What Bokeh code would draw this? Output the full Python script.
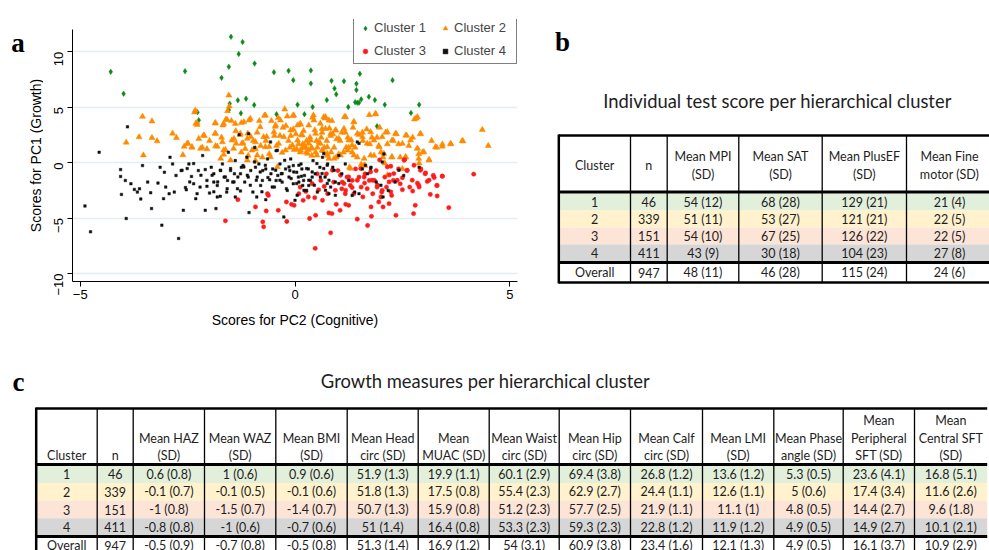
import math
from bokeh.plotting import figure
from bokeh.models import Range1d, FixedTicker, Legend, LegendItem
from bokeh.layouts import column, row
from bokeh.embed import file_html
from bokeh.resources import INLINE
from bokeh.core.properties import value

# ---------------- data: panel a (PC scores per cluster) ----------------
cluster1_pts = [(-4.29, 8.18), (-3.99, 6.21), (-2.56, 8.24), (-2.27, 4.54), (-2.24, 3.82), (-1.71, 7.64),
    (-1.54, 8.63), (-1.49, 11.34), (-1.22, 10.87), (-1.31, 9.79), (-0.94, 8.93), (-1.52, 5.31), (-1.54, 4.75),
    (-1.33, 5.61), (-1.14, 5.76), (-1.26, 4.45), (-0.95, 5.19), (-0.49, 8.15), (-0.15, 8.27), (-0.04, 7.43),
    (-0.43, 4.36), (0.06, 5.22), (0.37, 8.30), (0.37, 7.13), (0.41, 5.01), (0.22, 4.36), (0.74, 5.64),
    (0.85, 7.37), (0.92, 6.69), (0.96, 6.15), (1.14, 7.34), (1.43, 7.10), (1.43, 6.54), (1.51, 8.00),
    (1.24, 5.01), (1.45, 5.40), (1.49, 5.40), (1.54, 5.70), (1.72, 5.94), (1.86, 5.64), (2.09, 5.22),
    (2.27, 7.43), (1.91, 3.28), (2.70, 4.48), (2.89, 5.22), (1.40, 5.45)]

cluster2_pts = [(-3.93, 1.82), (-3.55, 4.15), (-3.63, 2.30), (-3.33, 3.73), (-3.33, 2.24), (-3.21, 1.94),
    (-3.53, 0.66), (-2.85, 2.63), (-2.76, 2.24), (-2.58, 1.46), (-2.49, 1.73), (-2.40, 1.37), (-2.61, 0.69),
    (-2.34, 4.54), (-2.31, 3.52), (-2.28, 3.40), (-2.24, 2.15), (-2.16, 1.37), (-2.11, 2.42), (-2.05, 1.22),
    (-1.99, 1.97), (-1.86, 3.55), (-1.86, 2.63), (-1.85, 1.49), (-1.81, 1.46), (-1.71, 2.27), (-1.68, 3.37),
    (-1.66, 0.72), (-1.62, 1.16), (-1.61, 3.88), (-1.57, 4.66), (-1.54, 6.06), (-1.53, 5.07), (-1.48, 3.76),
    (-1.42, 2.15), (-1.38, 2.84), (-1.37, 1.73), (-1.28, 2.51), (-1.25, 3.58), (-1.21, 1.76), (-1.16, 1.25),
    (-1.10, 2.63), (-1.07, 3.82), (-1.03, 2.33), (-0.97, 1.97), (-0.92, 1.22), (-0.88, 2.72), (-0.83, 3.76),
    (-0.80, 1.52), (-0.71, 4.24), (-0.66, 2.33), (-0.60, 1.43), (-0.55, 3.76), (-0.46, 3.25), (-0.43, 1.52),
    (-0.39, 4.03), (-0.35, 2.42), (-0.30, 0.90), (-0.24, 4.81), (-0.21, 3.31), (-0.15, 1.97), (-0.10, 2.42),
    (-0.05, 4.21), (-0.02, 1.16), (0.02, 2.57), (0.06, 3.37), (0.08, 1.67), (0.13, 3.43), (0.15, 2.51),
    (0.17, 1.31), (0.20, 1.46), (0.24, 1.37), (0.27, 1.97), (0.31, 1.13), (0.35, 2.27), (0.39, 0.63),
    (0.41, 4.06), (0.44, 3.82), (0.46, 2.93), (0.50, 1.97), (0.52, 1.37), (0.59, 3.52), (0.63, 2.72),
    (0.65, 1.07), (0.70, 4.00), (0.74, 1.97), (0.76, 0.63), (0.80, 3.10), (0.83, 2.42), (0.86, 3.76),
    (0.91, 1.37), (0.95, 2.93), (0.97, 2.12), (1.02, 0.75), (1.05, 1.97), (1.09, 2.72), (1.15, 4.12),
    (1.19, 1.37), (1.23, 2.27), (1.27, -0.42), (1.31, 2.03), (1.35, 3.16), (1.37, 3.67), (1.40, 1.37),
    (1.45, 0.48), (1.49, 2.51), (1.54, -0.18), (1.58, 1.97), (1.63, -0.27), (1.67, 3.01), (1.73, 4.30),
    (1.74, 1.67), (1.79, 2.27), (1.84, 0.63), (1.87, 4.36), (1.91, 2.27), (1.95, 1.52), (2.00, 0.93),
    (2.05, 0.48), (2.09, -0.06), (2.11, 2.72), (2.15, 1.67), (2.25, 0.48), (2.29, 1.97), (2.36, 2.57),
    (2.41, 1.67), (2.45, 0.48), (2.50, -0.57), (2.57, 0.48), (2.60, 2.45), (2.65, 1.52), (2.74, 2.27),
    (2.82, 4.00), (2.85, 1.28), (2.88, 0.78), (2.89, -0.06), (2.92, 2.57), (2.97, 0.93), (3.12, 0.21),
    (3.18, 1.97), (3.30, 1.37), (3.43, 1.46), (3.63, 1.67), (3.91, 1.94), (4.36, 2.96), (4.50, 1.52),
    (2.78, 3.91), (-0.12, 1.37), (0.04, 1.22), (0.12, 0.93), (0.18, 1.67), (0.26, 0.93), (0.32, 1.73),
    (0.38, 1.37), (0.48, 0.93), (0.56, 1.82), (0.68, 1.37), (0.84, 0.93), (0.96, 0.48), (1.13, 0.93),
    (1.25, 1.37), (1.33, 0.93), (-0.60, 0.78), (-0.76, 0.48), (-0.92, 0.18), (-1.25, 0.93), (-1.09, 0.63),
    (-0.28, 3.16), (0.20, 2.87), (-0.04, 3.01), (-0.48, 2.42), (-0.68, 1.97), (0.61, 2.27), (0.88, 2.57),
    (1.17, 2.72), (1.57, 2.72), (1.97, 3.16),
    (-2.32, 4.71), (-2.28, 3.57), (-1.85, 3.57), (-1.66, 3.51), (-1.58, 3.87), (-1.39, 3.51), (-1.19, 3.66),
    (-1.04, 3.96), (-0.81, 3.21), (-0.69, 4.26), (-0.45, 3.36), (-0.34, 3.81), (-0.18, 4.17), (-0.03, 4.26),
    (0.12, 3.51), (0.32, 3.36), (0.43, 4.26), (0.67, 4.11), (-2.51, 1.71), (-2.40, 1.41), (-2.20, 1.26),
    (-2.13, 2.46), (-1.85, 2.61), (-1.69, 1.86), (-1.66, 1.11), (-1.47, 2.01), (-1.43, 1.26), (-1.27, 2.61),
    (-1.24, 1.71), (-1.11, 2.16), (-1.00, 1.11), (-0.92, 1.86), (-0.88, 0.66), (-0.73, 2.31), (-0.69, 1.41),
    (-0.57, 0.51), (-0.49, 2.76), (-0.38, 1.71), (-0.26, 2.31), (-0.22, 1.11), (-0.10, 2.91), (-0.06, 1.56),
    (0.06, 2.01), (0.13, 1.11), (0.17, 2.46), (0.22, 1.56), (0.29, 0.81), (0.36, 2.01), (0.40, 1.26),
    (0.48, 2.61), (0.51, 0.66), (0.59, 1.71), (0.63, 1.11), (0.71, 3.06), (0.75, 1.41), (0.79, 0.36),
    (-1.73, 0.36), (-1.50, 0.21), (-1.11, 0.21), (-0.41, -0.39),
    (0.71, 4.11), (0.79, 3.81), (1.18, 4.11), (1.37, 3.66), (1.88, 4.41), (2.85, 4.11), (0.63, 3.06),
    (0.83, 2.61), (0.94, 2.91), (1.02, 2.16), (1.14, 3.06), (1.25, 2.01), (1.33, 1.56), (1.45, 2.61),
    (1.57, 2.31), (1.68, 1.71), (1.76, 2.76), (1.84, 2.01), (1.96, 1.41), (2.03, 2.31), (2.15, 2.76),
    (2.26, 2.01), (2.34, 2.61), (2.50, 1.71), (2.58, 2.46), (2.69, 2.01), (2.85, 1.26), (2.92, 2.61),
    (3.00, 0.96), (3.27, 1.41), (3.43, 1.65), (3.62, 1.71), (3.89, 1.95), (0.75, 0.81), (0.91, 0.36),
    (1.06, 0.66), (1.22, 1.11), (1.37, 0.66), (1.61, 0.36), (1.76, 0.66), (2.07, 0.81), (2.26, 0.51),
    (2.58, 0.51), (2.88, 0.36), (3.12, 0.27), (1.29, -0.54), (1.61, -0.24), (2.15, -1.14)]

cluster3_pts = [(-1.33, -3.34), (-1.62, -5.25), (-0.92, -4.00), (-0.75, -5.34), (-0.73, -5.79), (-0.67, -4.36),
    (-0.64, -2.81), (-0.62, -2.96), (-0.39, -4.30), (-0.19, -5.31), (-0.20, -3.55), (-0.08, -3.76),
    (-0.02, -3.85), (0.09, -2.81), (0.12, -2.21), (0.19, -3.40), (0.31, -3.10), (0.34, -5.04), (0.46, -3.16),
    (0.47, -7.73), (0.48, -4.75), (0.52, -1.01), (0.55, -2.45), (0.60, -1.61), (0.64, -3.40), (0.68, -2.15),
    (0.73, -1.01), (0.79, -4.54), (0.83, -6.33), (0.86, -4.60), (0.90, -1.76), (0.96, -3.76), (1.00, -0.72),
    (1.05, -4.30), (1.10, -1.76), (1.17, -2.81), (1.18, -3.76), (1.21, -1.31), (1.25, -3.85), (1.29, -2.06),
    (1.33, -1.61), (1.37, -2.81), (1.41, -0.57), (1.45, -5.10), (1.49, -1.31), (1.54, -2.21), (1.58, -3.10),
    (1.63, -1.01), (1.69, -5.67), (1.73, -1.61), (1.77, -4.00), (1.78, -4.84), (1.81, -2.81), (1.85, -1.61),
    (1.89, -0.72), (1.91, -2.21), (1.95, -3.55), (1.97, 0.24), (2.02, -2.66), (2.05, -4.00), (2.09, -1.31),
    (2.13, -2.21), (2.19, -3.70), (2.23, -0.33), (2.25, -2.96), (2.29, -1.61), (2.35, -4.75), (2.41, -0.57),
    (2.45, -1.91), (2.50, -1.37), (2.55, 0.27), (2.61, -0.72), (2.67, -2.21), (2.74, -2.57), (2.76, -4.60),
    (2.80, -3.85), (2.85, -1.85), (2.89, -2.21), (2.93, -0.57), (3.03, -1.01), (3.08, -1.70), (3.15, -2.87),
    (3.22, -1.16), (3.30, -2.06), (3.31, -3.01), (3.43, -1.22), (3.58, -4.06), (4.16, -1.04), (0.76, -2.81),
    (1.09, -2.36), (1.62, -1.85), (2.20, -1.10), (0.40, -1.90), (0.25, -2.60),
    (0.87, -0.69), (1.06, -1.14), (1.25, -1.30), (1.45, -1.59), (1.33, -2.25), (1.18, -2.50), (1.61, -1.30),
    (1.68, -2.35), (1.80, -1.59), (1.92, -2.04), (2.03, -2.50), (2.15, -0.39), (2.19, -1.74), (2.23, -2.64),
    (2.30, -0.99), (2.38, -1.59), (2.50, -2.44), (2.54, 0.21), (2.61, -0.69), (2.73, -1.59), (2.77, -0.24),
    (2.88, -2.04), (2.92, -0.69), (3.04, -0.93), (3.12, -1.59), (3.24, -1.35), (3.31, -2.07), (3.43, -1.23),
    (1.53, -0.54), (1.76, -0.84), (2.00, -3.10), (1.14, -1.89), (0.94, -2.50)]

cluster4_pts = [(-4.89, -3.91), (-4.76, -6.24), (-4.56, 0.93), (-4.06, -0.63), (-4.06, -1.25), (-4.04, -2.87),
    (-3.95, -1.61), (-3.93, -5.04), (-3.90, 3.22), (-3.82, -1.91), (-3.74, -2.42), (-3.67, -2.66), (-3.62, -2.36),
    (-3.59, -3.28), (-3.55, -0.27), (-3.43, -1.76), (-3.36, -2.72), (-3.34, -4.15), (-3.19, -1.85), (-3.14, -0.42),
    (-3.10, -5.64), (-3.06, -3.25), (-3.04, -0.87), (-3.01, -2.21), (-2.93, -2.81), (-2.91, 0.48), (-2.85, -0.12),
    (-2.81, -2.66), (-2.77, -1.16), (-2.71, -6.84), (-2.65, -0.72), (-2.60, -4.30), (-2.53, -2.45), (-2.47, -0.12),
    (-2.41, -1.25), (-2.36, -1.91), (-2.31, -3.25), (-2.25, -0.72), (-2.21, -2.21), (-2.15, 0.63), (-2.09, -4.30),
    (-2.05, -1.61), (-1.99, -2.75), (-1.95, -0.42), (-1.89, -1.01), (-1.84, -4.15), (-1.81, -2.06), (-1.74, -3.04),
    (-1.69, -0.12), (-1.65, -1.31), (-1.59, -2.66), (-1.55, 0.93), (-1.50, -0.72), (-1.45, -1.76), (-1.39, 0.18),
    (-1.34, -2.36), (-1.30, 2.51), (-1.27, -1.01), (-1.21, -0.27), (-1.17, -1.76), (-1.12, 0.48), (-1.07, -4.51),
    (-1.03, -0.72), (-0.98, -2.66), (-0.94, 1.37), (-0.88, -1.31), (-0.84, -0.12), (-0.80, -2.06), (-0.75, -0.72),
    (-0.68, -3.34), (-0.64, 0.33), (-0.59, -1.55), (-0.52, -0.57), (-0.48, -2.21), (-0.44, 1.07), (-0.40, -1.16),
    (-0.35, -0.12), (-0.30, -1.76), (-0.26, -4.90), (-0.22, -0.57), (-0.18, -2.51), (-0.14, -1.31), (-0.10, 0.33),
    (-0.04, -1.91), (0.00, -3.40), (0.04, -0.87), (0.09, -1.76), (0.14, -0.12), (0.18, -2.06), (0.22, -1.16),
    (0.27, -2.51), (0.31, -0.57), (0.36, -1.61), (0.42, 0.18), (0.47, -1.01), (0.52, -2.66), (0.58, -0.42),
    (0.64, 0.48), (0.70, -1.31), (0.76, -0.12), (0.83, -2.21), (0.88, -0.42), (0.94, -1.76), (1.02, 0.63),
    (1.09, -1.01), (1.17, -0.12), (1.25, -1.61), (1.33, -2.96), (1.39, -2.66), (1.49, 1.73), (1.57, -0.57),
    (1.69, -1.01), (1.77, -0.42), (1.89, -1.76), (2.05, -3.10), (2.07, 0.78), (2.17, -2.51), (2.33, -1.76),
    (2.53, -1.16), (2.89, -0.42), (-0.12, -0.72), (-0.04, -0.27), (0.08, -1.31), (0.20, -1.61), (0.16, -0.57),
    (0.32, -2.06), (0.40, -1.31), (-0.32, -1.01), (-0.44, -1.61), (-0.56, -1.01), (-0.68, -0.57), (-0.76, -1.61),
    (-0.92, -0.42), (-1.09, -1.31), (-1.25, -0.42), (-1.41, -1.01), (-1.57, -1.61), (-1.73, -0.72), (-1.89, -1.76),
    (-2.63, -0.69), (-2.55, -2.25), (-2.45, -1.74), (-2.36, -0.09), (-2.19, -1.14), (-2.09, -0.63), (-2.05, -2.14),
    (-1.93, -1.14), (-1.89, -2.64), (-1.80, -1.74), (-1.74, -0.69), (-1.62, -1.30), (-1.58, -2.35), (-1.50, -0.54),
    (-1.42, -1.74), (-1.33, -1.30), (-1.27, -2.56), (-1.19, -0.39), (-1.11, -1.14), (-1.08, 2.61), (-1.04, -2.04),
    (-0.94, 0.06), (-0.90, -1.59), (-0.81, -0.84), (-0.77, -2.64), (-0.69, -0.24), (-0.63, -1.35), (-0.57, 1.86),
    (-0.53, -2.20), (-0.45, -0.69), (-0.41, 1.11), (-0.35, -1.59), (-0.30, -0.99), (-0.24, 0.21), (-0.20, -2.35),
    (-0.14, -0.39), (-0.09, -1.44), (-0.03, -0.84), (0.04, -1.89), (0.09, -0.24), (0.15, -1.23), (0.21, -2.50),
    (0.27, -0.54), (0.32, -1.59), (0.40, -0.84), (0.45, -2.04), (0.51, -0.09), (0.59, -1.30), (0.67, -0.54),
    (0.75, -1.89), (0.79, -2.80), (-2.51, -0.54), (-2.28, -2.80), (-1.81, -3.10), (-1.39, -3.10), (-0.89, -3.10),
    (0.05, -2.95), (0.67, 0.81), (0.75, -0.24), (0.63, -0.99), (0.79, -1.59), (0.91, -0.69), (0.71, -2.50),
    (1.02, -1.89), (0.94, -2.95), (1.45, 1.86), (1.64, -0.24), (1.76, -0.54), (2.03, 0.06), (2.00, -2.04),
    (2.42, -0.69), (1.49, -2.80)]

cluster_labels = ["Cluster 1", "Cluster 2", "Cluster 3", "Cluster 4"]
x_ticks = [-5, 0, 5]
y_ticks = [-10, -5, 0, 5, 10]
x_title = "Scores for PC2 (Cognitive)"
y_title = "Scores for PC1 (Growth)"

# ---------------- data: panel b ----------------
b_title = "Individual test score per hierarchical cluster"
b_headers = [["Cluster"], ["n"], ["Mean MPI", "(SD)"], ["Mean SAT", "(SD)"], ["Mean PlusEF", "(SD)"],
             ["Mean Fine", "motor (SD)"]]
row_names = ["1", "2", "3", "4", "Overall"]
n_vals = ["46", "339", "151", "411", "947"]
mpi = ["54 (12)", "51 (11)", "54 (10)", "43 (9)", "48 (11)"]
sat = ["68 (28)", "53 (27)", "67 (25)", "30 (18)", "46 (28)"]
plusef = ["129 (21)", "121 (21)", "126 (22)", "104 (23)", "115 (24)"]
fine_motor = ["21 (4)", "22 (5)", "22 (5)", "27 (8)", "24 (6)"]

# ---------------- data: panel c ----------------
c_title = "Growth measures per hierarchical cluster"
c_headers = [["Cluster"], ["n"], ["Mean HAZ", "(SD)"], ["Mean WAZ", "(SD)"], ["Mean BMI", "(SD)"],
             ["Mean Head", "circ (SD)"], ["Mean", "MUAC (SD)"], ["Mean Waist", "circ (SD)"],
             ["Mean Hip", "circ (SD)"], ["Mean Calf", "circ (SD)"], ["Mean LMI", "(SD)"],
             ["Mean Phase", "angle (SD)"], ["Mean", "Peripheral", "SFT (SD)"], ["Mean", "Central SFT", "(SD)"]]
haz = ["0.6 (0.8)", "-0.1 (0.7)", "-1 (0.8)", "-0.8 (0.8)", "-0.5 (0.9)"]
waz = ["1 (0.6)", "-0.1 (0.5)", "-1.5 (0.7)", "-1 (0.6)", "-0.7 (0.8)"]
bmi = ["0.9 (0.6)", "-0.1 (0.6)", "-1.4 (0.7)", "-0.7 (0.6)", "-0.5 (0.8)"]
head_circ = ["51.9 (1.3)", "51.8 (1.3)", "50.7 (1.3)", "51 (1.4)", "51.3 (1.4)"]
muac = ["19.9 (1.1)", "17.5 (0.8)", "15.9 (0.8)", "16.4 (0.8)", "16.9 (1.2)"]
waist_circ = ["60.1 (2.9)", "55.4 (2.3)", "51.2 (2.3)", "53.3 (2.3)", "54 (3.1)"]
hip_circ = ["69.4 (3.8)", "62.9 (2.7)", "57.7 (2.5)", "59.3 (2.3)", "60.9 (3.8)"]
calf_circ = ["26.8 (1.2)", "24.4 (1.1)", "21.9 (1.1)", "22.8 (1.2)", "23.4 (1.6)"]
lmi = ["13.6 (1.2)", "12.6 (1.1)", "11.1 (1)", "11.9 (1.2)", "12.1 (1.3)"]
phase_angle = ["5.3 (0.5)", "5 (0.6)", "4.8 (0.5)", "4.9 (0.5)", "4.9 (0.5)"]
peripheral_sft = ["23.6 (4.1)", "17.4 (3.4)", "14.4 (2.7)", "14.9 (2.7)", "16.1 (3.7)"]
central_sft = ["16.8 (5.1)", "11.6 (2.6)", "9.6 (1.8)", "10.1 (2.1)", "10.9 (2.9)"]

# ---------------- styles ----------------
SANS = "Liberation Sans"
TFONT = "Lato"
SERIF = "Liberation Serif"
ROW_COLORS = ["#E2EFDA", "#FFF2CC", "#FCE4D6", "#D6D6D6"]
TXT = "#1e1e1e"
TOP_H = 360


def blank_fig(w, h):
    f = figure(width=w, height=h, output_backend="svg", toolbar_location=None,
               x_range=Range1d(0, w), y_range=Range1d(h, 0),
               x_axis_location=None, y_axis_location=None, min_border=0)
    f.grid.visible = False
    f.outline_line_color = None
    f.background_fill_color = "white"
    f.border_fill_color = "white"
    f.frame_align = False
    return f


def put_text(f, xs, ys, texts, size="12.5px", font=TFONT, align="center", color=TXT, style="normal", angle=0):
    f.text(x=xs, y=ys, text=texts, text_font=value(font), text_font_size=value(size), angle=angle,
           text_align=align, text_baseline="middle", text_color=color, text_font_style=style)


# ================= panel a: letter + y title strip, then scatter =================
W_LET = 43
fa = blank_fig(W_LET, TOP_H)
put_text(fa, [17.5], [42], ["a"], size="27px", font=SERIF, style="bold", color="black")
put_text(fa, [35.5], [155], [y_title], size="14px", font=SANS, color="black", angle=math.pi / 2)

W_A = 540 - W_LET
Y_LO, Y_HI = -10.72, 11.97
p = figure(width=W_A, height=TOP_H, output_backend="svg", toolbar_location=None,
           x_range=Range1d(-5.18, 5.18), y_range=Range1d(Y_LO, 12.9),
           min_border_left=72 - W_LET, min_border_right=23, min_border_top=19, min_border_bottom=TOP_H - 281)
p.frame_align = False
p.outline_line_color = None
p.background_fill_color = "white"
p.border_fill_color = "white"

specs = [(cluster1_pts, "diamond", 5.5, "#0b8a16"),
         (cluster2_pts, "triangle", 6, "#ff8a00"),
         (cluster3_pts, "circle", 4.3, "#ff1c1c"),
         (cluster4_pts, "square", 2.5, "#111111")]
renderers = []
for pts, mk, sz, col in specs:
    xs = [a for a, b in pts]
    ys = [b for a, b in pts]
    r = p.scatter(xs, ys, marker=mk, size=sz, fill_color=col, line_color=col, line_width=0.5)
    renderers.append(r)

p.xaxis.ticker = FixedTicker(ticks=x_ticks)
p.yaxis.ticker = FixedTicker(ticks=y_ticks)
p.xaxis.axis_label = x_title
p.yaxis.bounds = (Y_LO, Y_HI)
for ax in (p.xaxis, p.yaxis):
    ax.axis_label_text_font = SANS
    ax.axis_label_text_font_style = "normal"
    ax.axis_label_text_font_size = "14px"
    ax.axis_label_text_color = "black"
    ax.major_label_text_font = SANS
    ax.major_label_text_font_size = "13px"
    ax.major_label_text_color = "black"
    ax.major_tick_out = 5
    ax.major_tick_in = 0
    ax.minor_tick_out = 0
    ax.minor_tick_in = 0
    ax.axis_line_color = "black"
    ax.major_tick_line_color = "black"
p.yaxis.major_label_orientation = math.pi / 2
p.xaxis.major_label_standoff = 3
p.yaxis.major_label_standoff = 9
p.xaxis.axis_label_standoff = 10
p.xgrid.visible = False
p.ygrid.grid_line_color = "#e4edf0"
p.ygrid.grid_line_width = 1.5

legend = Legend(items=[LegendItem(label=lab, renderers=[r]) for lab, r in zip(cluster_labels, renderers)],
                orientation="horizontal", ncols=2, location=(281, 217))
legend.padding = 5
legend.spacing = 8
legend.margin = 0
legend.glyph_width = 12
legend.glyph_height = 12
legend.label_height = 12
legend.label_width = 57
legend.label_standoff = 3
legend.label_text_font = SANS
legend.label_text_font_size = "13px"
legend.border_line_color = "black"
legend.border_line_width = 1
legend.background_fill_color = "white"
legend.background_fill_alpha = 1
p.add_layout(legend, "center")


# ================= helpers for tables =================
def draw_table(f, edges, right, top, head_bot, row_top, row_h, sep_y, bottom, columns, headers,
               head_lines_y, valign_bottom):
    left = edges[0]
    f.quad(left=[left] * 4, right=[right] * 4,
           top=[row_top + i * row_h for i in range(4)],
           bottom=[row_top + (i + 1) * row_h for i in range(4)],
           fill_color=ROW_COLORS, line_color=None)
    inner = edges[1:]
    f.segment(x0=inner, y0=[top] * len(inner), x1=inner, y1=[bottom] * len(inner),
              line_color="black", line_width=1.3)
    f.segment(x0=[left], y0=[top - 1], x1=[left], y1=[bottom + 1], line_color="black", line_width=2.5)
    f.segment(x0=[left, left, left, left], y0=[top, head_bot, sep_y, bottom],
              x1=[right] * 4, y1=[top, head_bot, sep_y, bottom],
              line_color="black", line_width=[2.5, 3, 3, 2.5])
    all_edges = list(edges) + [right]
    hx, hy, ht = [], [], []
    for j, lines in enumerate(headers):
        cx = (all_edges[j] + all_edges[j + 1]) / 2
        k = len(lines)
        ys = head_lines_y[len(head_lines_y) - k:] if valign_bottom else head_lines_y[k]
        for t, yy in zip(lines, ys):
            hx.append(cx)
            hy.append(yy)
            ht.append(t)
    put_text(f, hx, hy, ht)
    row_y = [row_top + (i + 0.5) * row_h for i in range(4)] + [(sep_y + bottom) / 2]
    bx, by, bt = [], [], []
    for j, col in enumerate(columns):
        cx = (all_edges[j] + all_edges[j + 1]) / 2
        for i, t in enumerate(col):
            bx.append(cx)
            by.append(row_y[i])
            bt.append(t)
    put_text(f, bx, by, bt)


# ================= panel b: table =================
W_B = 449
fb = blank_fig(W_B, TOP_H)
put_text(fb, [22], [41], ["b"], size="27px", font=SERIF, style="bold", color="black")
put_text(fb, [237], [100], [b_title], size="18.4px")
draw_table(fb, edges=[18.3, 90, 126.7, 198.3, 281.7, 366], right=452, top=135, head_bot=191.5,
           row_top=193, row_h=17, sep_y=262, bottom=282,
           columns=[row_names, n_vals, mpi, sat, plusef, fine_motor], headers=b_headers,
           head_lines_y={1: [165], 2: [156, 173.5]}, valign_bottom=False)

# ================= panel c: table =================
W_C, H_C = 989, 550 - TOP_H
fc = blank_fig(W_C, H_C)
oy = TOP_H  # table c is laid out in page pixels, shifted into this figure
put_text(fc, [18], [381 - oy], ["c"], size="27px", font=SERIF, style="bold", color="black")
put_text(fc, [485], [380 - oy], [c_title], size="18.4px")
draw_table(fc, edges=[35.7, 96.7, 132.7, 204, 275.3, 346.7, 417.7, 488.7, 558.7, 630, 702, 773.3,
                      842.7, 914], right=986.7, top=408 - oy, head_bot=464 - oy,
           row_top=465 - oy, row_h=17.6, sep_y=536 - oy, bottom=554 - oy,
           columns=[row_names, n_vals, haz, waz, bmi, head_circ, muac, waist_circ, hip_circ, calf_circ,
                    lmi, phase_angle, peripheral_sft, central_sft],
           headers=c_headers, head_lines_y=[420 - oy, 437.5 - oy, 455 - oy], valign_bottom=True)

layout = column(row(fa, p, fb), fc)
open("out.html", "w").write(file_html(layout, INLINE))
